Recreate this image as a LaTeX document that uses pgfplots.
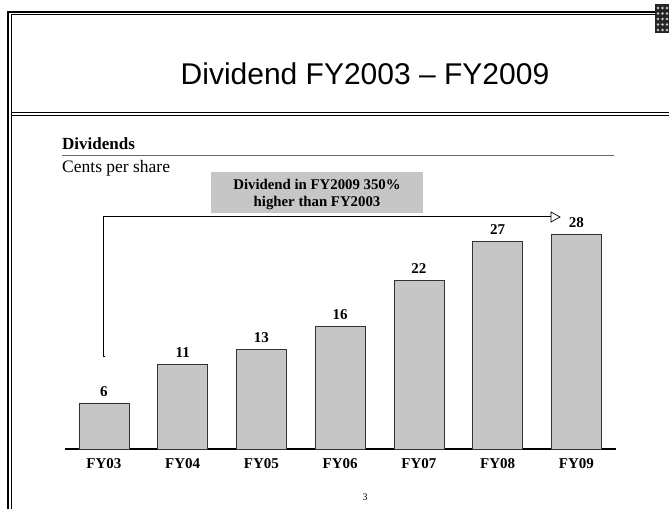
\documentclass[border=0pt]{standalone}
\usepackage{fontspec}
\setmainfont{Liberation Serif}
\newfontfamily\arial{Liberation Sans}
\usepackage{pgfplots}
\pgfplotsset{compat=1.18}
\definecolor{bargray}{HTML}{C6C6C6}
\begin{document}
\begin{tikzpicture}
\begin{scope}[x=1pt,y=-1pt]
\path[use as bounding box] (0,0) rectangle (669,509);
% slide frame
\draw[line width=1.1pt] (8,509) -- (8,12) -- (669,12);
\draw[line width=0.7pt] (11,509) -- (11,14.8) -- (669,14.8);
\draw[line width=1.4pt] (11,112.5) -- (669,112.5);
\draw[line width=0.7pt] (11,115.3) -- (669,115.3);
% corner icon
\fill[black!85] (655,4) rectangle (669,33);
\foreach \i in {0,...,4}{\foreach \j in {0,1,2}{\fill[white!80!black] (658+4.5*\j,8+5.5*\i) circle (1.3);}}
% title
\node[anchor=base, inner sep=0pt, font=\arial\fontsize{30}{36}\selectfont] at (365,84) {Dividend FY2003 – FY2009};
% headings
\node[anchor=base west, inner sep=0pt, font=\fontsize{17}{20}\selectfont\bfseries] at (62,149) {Dividends};
\draw[gray!80!black, line width=1.5pt] (62,155.5) -- (614,155.5);
\node[anchor=base west, inner sep=0pt, font=\fontsize{17.5}{21}\selectfont] at (62,172) {Cents per share};
% callout box
\fill[bargray] (211,172) rectangle (423,213);
\node[anchor=base, inner sep=0pt, font=\fontsize{14.8}{17}\selectfont\bfseries] at (317,189) {Dividend in FY2009 350\%};
\node[anchor=base, inner sep=0pt, font=\fontsize{14.8}{17}\selectfont\bfseries] at (317,206) {higher than FY2003};
% arrow
\draw[black, line width=2.4pt] (104,357) -- (104,217) -- (551,217);
\draw[white, line width=1.0pt] (104,356) -- (104,217) -- (551,217);
\draw[fill=white, line width=0.7pt] (551,212) -- (560,217) -- (551,222) -- cycle;
% page number
\node[inner sep=0pt, font=\fontsize{10}{12}\selectfont] at (365,497) {3};
\end{scope}
\begin{axis}[
  at={(64.6pt,-449pt)}, anchor=south west,
  width=551.25pt, height=230.4pt, scale only axis,
  xmin=-0.5, xmax=6.5, ymin=0, ymax=30,
  axis x line*=bottom, hide y axis,
  x axis line style={line width=1.6pt, black, -},
  xtick={0,...,6},
  xticklabels={FY03,FY04,FY05,FY06,FY07,FY08,FY09},
  major tick length=0pt,
  xticklabel style={font=\fontsize{15}{18}\selectfont\bfseries, yshift=-6pt},
  ybar, bar width=50pt,
  /pgf/number format/assume math mode=true,
  nodes near coords,
  every node near coord/.append style={font=\fontsize{15}{18}\selectfont\bfseries, yshift=3pt},
  clip=false,
]
\addplot[fill=bargray, draw=black!80, line width=0.8pt] coordinates {(0,6) (1,11) (2,13) (3,16) (4,22) (5,27) (6,28)};
\end{axis}
\end{tikzpicture}
\end{document}
